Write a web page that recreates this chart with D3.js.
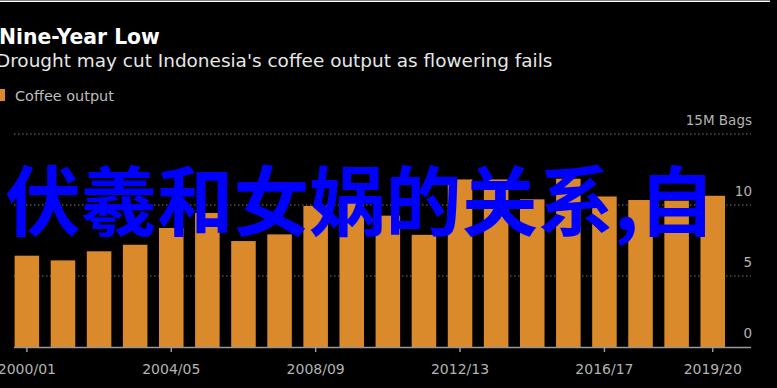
<!DOCTYPE html>
<html>
<head>
<meta charset="utf-8">
<script src="https://cdn.jsdelivr.net/npm/d3@7"></script>
<style>
  html, body { margin: 0; padding: 0; background: #000; }
  svg { display: block; }
</style>
</head>
<body>
<svg id="chart" width="777" height="388"></svg>
<script>
// coffee output, million bags
var seasons = ["2000/01","2001/02","2002/03","2003/04","2004/05","2005/06","2006/07",
  "2007/08","2008/09","2009/10","2010/11","2011/12","2012/13","2013/14","2014/15",
  "2015/16","2016/17","2017/18","2018/19","2019/20"];
var output = [6.43, 6.1, 6.74, 7.2, 8.38, 9.44, 7.46, 7.93, 9.93, 10.4, 9.25, 7.9,
  11.8, 11.8, 10.4, 11.85, 10.6, 10.35, 10.3, 10.65];
var xTicks = ["2000/01","2004/05","2008/09","2012/13","2016/17","2019/20"];
var yTicks = [0, 5, 10, 15];

var barColor = "#da8a2a";
var font = "DejaVu Sans, Verdana, sans-serif";

var svg = d3.select("#chart");

svg.append("rect").attr("x", 0).attr("y", 0).attr("width", 777).attr("height", 388).attr("fill", "#000");
svg.append("rect").attr("x", 0).attr("y", 0.5).attr("width", 770).attr("height", 1.5).attr("fill", "#fff");

// fit a text to a measured width by changing its font size
function fitWidth(t, w){
    var len = t.node().getComputedTextLength();
    var fs = parseFloat(t.attr("font-size"));
    t.attr("font-size", fs * w / len);
}

var title = svg.append("text")
    .attr("x", -1).attr("y", 44)
    .attr("font-family", font).attr("font-weight", "bold")
    .attr("font-size", 18).attr("fill", "#fff")
    .text("Nine-Year Low");
fitWidth(title, 161);

var sub = svg.append("text")
    .attr("x", -4).attr("y", 67)
    .attr("font-family", font)
    .attr("font-size", 16).attr("fill", "#e6e6e6")
    .text("Drought may cut Indonesia's coffee output as flowering fails");
fitWidth(sub, 557);

// legend
svg.append("rect").attr("x", -5).attr("y", 89).attr("width", 10).attr("height", 12).attr("fill", barColor);
var leg = svg.append("text")
    .attr("x", 15).attr("y", 101)
    .attr("font-family", font).attr("font-size", 14).attr("fill", "#bdbdbd")
    .text("Coffee output");
fitWidth(leg, 99);

var x = d3.scaleBand()
    .domain(seasons)
    .range([14.6, 725])
    .paddingInner(0.32)
    .paddingOuter(0);

var y = d3.scaleLinear()
    .domain([0, 15])
    .range([347, 134]);

// gridlines
svg.append("g").selectAll("line")
    .data(yTicks.filter(function(d){ return d > 0; }))
    .join("line")
    .attr("x1", 14).attr("x2", 751)
    .attr("y1", function(d){ return y(d); })
    .attr("y2", function(d){ return y(d); })
    .attr("stroke", "#777")
    .attr("stroke-width", 1)
    .attr("stroke-dasharray", "1.5,2.5");

// y labels
svg.append("g").selectAll("text")
    .data(yTicks)
    .join("text")
    .attr("x", 752)
    .attr("y", function(d){ return y(d) - 9; })
    .attr("text-anchor", "end")
    .attr("font-family", font).attr("font-size", 13.5).attr("fill", "#b3b3b3")
    .text(function(d){ return d == 15 ? "15M Bags" : d; });

// bars
svg.append("g").selectAll("rect")
    .data(seasons)
    .join("rect")
    .attr("x", function(d){ return x(d); })
    .attr("width", x.bandwidth())
    .attr("y", function(d, i){ return y(output[i]); })
    .attr("height", function(d, i){ return y(0) - y(output[i]); })
    .attr("fill", barColor);

// x axis
var xAxis = svg.append("g")
    .attr("transform", "translate(0,347)")
    .call(d3.axisBottom(x).tickValues(xTicks).tickSize(5).tickPadding(12).tickSizeOuter(0));
xAxis.select(".domain").remove();
xAxis.append("line").attr("x1", 14).attr("x2", 751).attr("y1", 0.5).attr("y2", 0.5)
    .attr("stroke", "#999").attr("stroke-width", 1.5);
xAxis.selectAll(".tick line").attr("stroke", "#999").attr("stroke-width", 1.5);
xAxis.selectAll(".tick text")
    .attr("font-family", font).attr("font-size", 14).attr("fill", "#b3b3b3");

// overlay text
var over = svg.append("text")
    .attr("x", 5).attr("y", 230)
    .attr("font-family", "Noto Sans CJK SC").attr("font-weight", "bold")
    .attr("font-size", 78).attr("fill", "#0000ff")
    .text("伏羲和女娲的关系,自");
fitWidth(over, 710);
</script>
</body>
</html>
